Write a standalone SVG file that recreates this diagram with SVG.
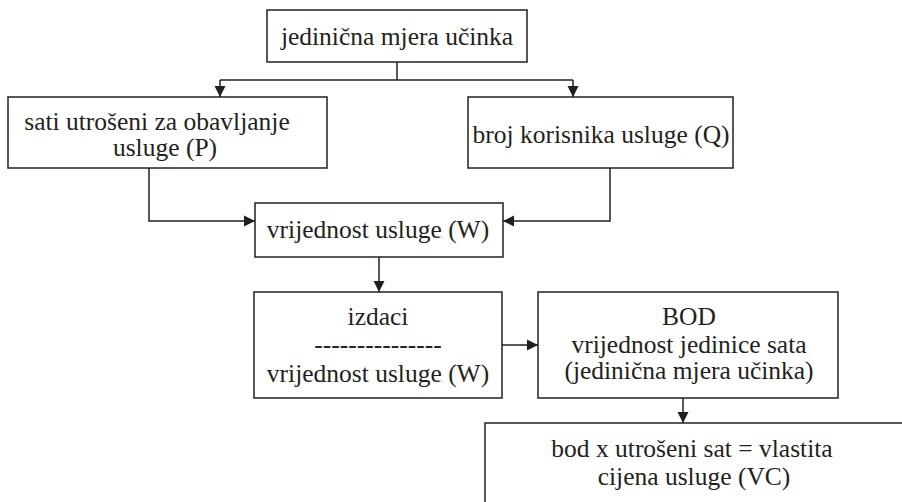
<svg xmlns="http://www.w3.org/2000/svg" width="902" height="502" viewBox="0 0 902 502">
<style>
.box{fill:#fff;stroke:#231f20;stroke-width:1.5}
.t{font-family:"Liberation Serif","Times New Roman",serif;font-size:25.5px;fill:#231f20;text-anchor:middle}
.c{fill:none;stroke:#231f20;stroke-width:1.5}
</style>
<defs>
<marker id="ah" markerUnits="userSpaceOnUse" markerWidth="12" markerHeight="12" viewBox="0 0 12 12" refX="11" refY="6" orient="auto">
<path d="M0,0.5 L11,6 L0,11.5 Z" fill="#231f20"/>
</marker>
</defs>
<rect width="902" height="502" fill="#fff"/>
<g id="connectors">
<path class="c" d="M397,62 V80"/>
<path class="c" d="M220,80 H573"/>
<path class="c" d="M220,80 V97" marker-end="url(#ah)"/>
<path class="c" d="M573,80 V97" marker-end="url(#ah)"/>
<path class="c" d="M149,168 V221 H255" marker-end="url(#ah)"/>
<path class="c" d="M610,168 V221 H503" marker-end="url(#ah)"/>
<path class="c" d="M379,257 V292" marker-end="url(#ah)"/>
<path class="c" d="M502,345 H538" marker-end="url(#ah)"/>
<path class="c" d="M683,398 V423" marker-end="url(#ah)"/>
</g>
<g id="n-top">
<rect class="box" x="267" y="10" width="260" height="52"/>
<text class="t" x="397" y="45">jedinična mjera učinka</text>
</g>
<g id="n-sati">
<rect class="box" x="8" y="97" width="319" height="71"/>
<text class="t" x="157" y="130">sati utrošeni za obavljanje</text>
<text class="t" x="165" y="156">usluge (P)</text>
</g>
<g id="n-broj">
<rect class="box" x="468" y="97" width="265" height="71"/>
<text class="t" x="601" y="143">broj korisnika usluge (Q)</text>
</g>
<g id="n-vrijednost">
<rect class="box" x="255" y="203" width="248" height="54"/>
<text class="t" x="378" y="238">vrijednost usluge (W)</text>
</g>
<g id="n-izdaci">
<rect class="box" x="254" y="292" width="248" height="106"/>
<text class="t" x="378" y="325">izdaci</text>
<text class="t" x="378" y="353">---------------</text>
<text class="t" x="378" y="382">vrijednost usluge (W)</text>
</g>
<g id="n-bod">
<rect class="box" x="538" y="292" width="300" height="106"/>
<text class="t" x="689" y="325">BOD</text>
<text class="t" x="689" y="353">vrijednost jedinice sata</text>
<text class="t" x="689" y="379">(jedinična mjera učinka)</text>
</g>
<g id="n-vc">
<rect class="box" x="485" y="423" width="450" height="120"/>
<text class="t" x="692" y="457">bod x utrošeni sat = vlastita</text>
<text class="t" x="694" y="485">cijena usluge (VC)</text>
</g>
</svg>
